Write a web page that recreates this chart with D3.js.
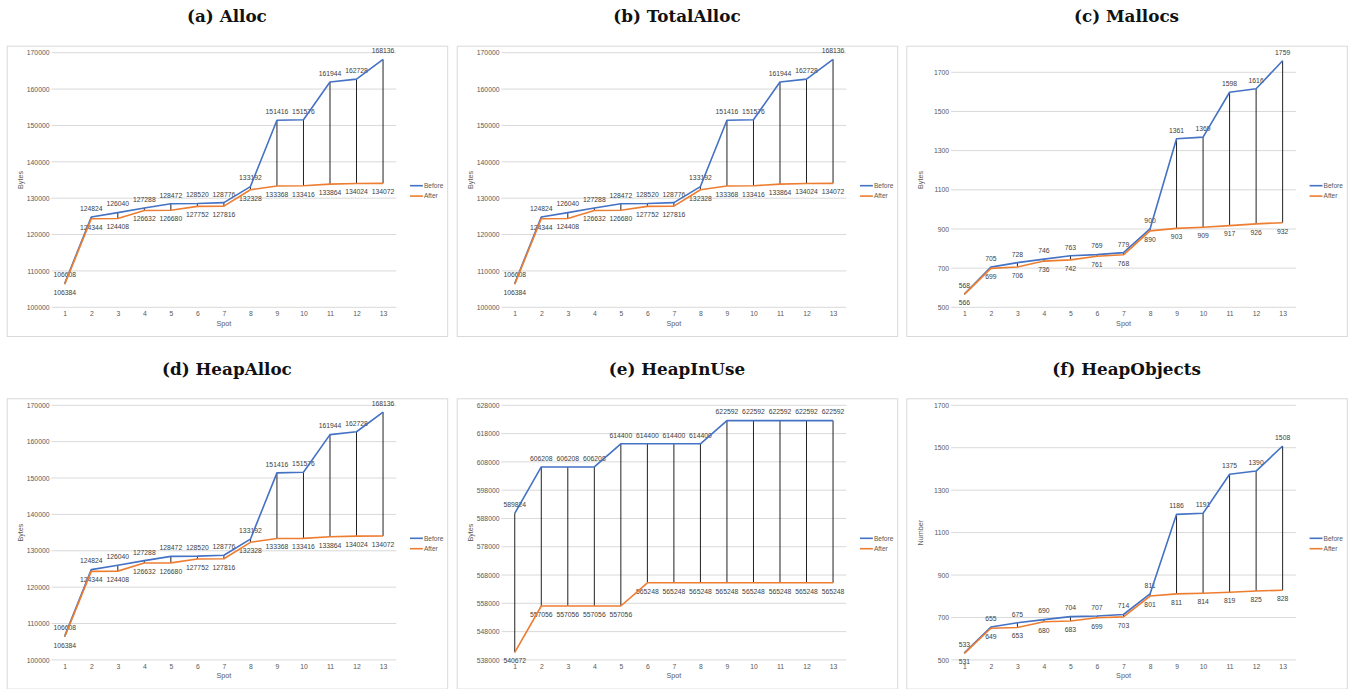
<!DOCTYPE html>
<html>
<head>
<meta charset="utf-8">
<script src="https://cdn.jsdelivr.net/npm/d3@7"></script>
<style>
  body { margin: 0; background: #fff; }
  text { font-family: "Liberation Sans", Arial, sans-serif; }
  .title { font-family: "DejaVu Serif", serif; font-weight: bold; }
</style>
</head>
<body>
<svg id="fig" width="1348" height="689"></svg>
<script>
// Measurement spots along the x axis
const spots = [1, 2, 3, 4, 5, 6, 7, 8, 9, 10, 11, 12, 13];
const seriesNames = ["Before", "After"];

// Alloc (bytes)
const allocBefore = [106608, 124824, 126040, 127288, 128472, 128520, 128776, 133192, 151416, 151576, 161944, 162728, 168136];
const allocAfter  = [106384, 124344, 124408, 126632, 126680, 127752, 127816, 132328, 133368, 133416, 133864, 134024, 134072];

// TotalAlloc (bytes)
const totalAllocBefore = [106608, 124824, 126040, 127288, 128472, 128520, 128776, 133192, 151416, 151576, 161944, 162728, 168136];
const totalAllocAfter  = [106384, 124344, 124408, 126632, 126680, 127752, 127816, 132328, 133368, 133416, 133864, 134024, 134072];

// Mallocs (count)
const mallocsBefore = [568, 705, 728, 746, 763, 769, 779, 900, 1361, 1369, 1598, 1616, 1759];
const mallocsAfter  = [566, 699, 706, 736, 742, 761, 768, 890, 903, 909, 917, 926, 932];

// HeapAlloc (bytes)
const heapAllocBefore = [106608, 124824, 126040, 127288, 128472, 128520, 128776, 133192, 151416, 151576, 161944, 162728, 168136];
const heapAllocAfter  = [106384, 124344, 124408, 126632, 126680, 127752, 127816, 132328, 133368, 133416, 133864, 134024, 134072];

// HeapInUse (bytes)
const heapInUseBefore = [589824, 606208, 606208, 606208, 614400, 614400, 614400, 614400, 622592, 622592, 622592, 622592, 622592];
const heapInUseAfter  = [540672, 557056, 557056, 557056, 557056, 565248, 565248, 565248, 565248, 565248, 565248, 565248, 565248];

// HeapObjects (count)
const heapObjectsBefore = [533, 655, 675, 690, 704, 707, 714, 811, 1186, 1191, 1375, 1390, 1508];
const heapObjectsAfter  = [531, 649, 653, 680, 683, 699, 703, 801, 811, 814, 819, 825, 828];

// Value-axis ticks and extents
const bytesTicks = [100000, 110000, 120000, 130000, 140000, 150000, 160000, 170000];
const bytesDomain = [100000, 170000];
const mallocsTicks = [500, 700, 900, 1100, 1300, 1500, 1700];
const mallocsDomain = [500, 1800];
const heapInUseTicks = [538000, 548000, 558000, 568000, 578000, 588000, 598000, 608000, 618000, 628000];
const heapInUseDomain = [538000, 628000];
const heapObjectsTicks = [500, 700, 900, 1100, 1300, 1500, 1700];
const heapObjectsDomain = [500, 1700];

const panels = [
  { title: "(a) Alloc",       yTitle: "Bytes",  before: allocBefore,       after: allocAfter,       ticks: bytesTicks,       domain: bytesDomain },
  { title: "(b) TotalAlloc",  yTitle: "Bytes",  before: totalAllocBefore,  after: totalAllocAfter,  ticks: bytesTicks,       domain: bytesDomain },
  { title: "(c) Mallocs",     yTitle: "Bytes",  before: mallocsBefore,     after: mallocsAfter,     ticks: mallocsTicks,     domain: mallocsDomain },
  { title: "(d) HeapAlloc",   yTitle: "Bytes",  before: heapAllocBefore,   after: heapAllocAfter,   ticks: bytesTicks,       domain: bytesDomain },
  { title: "(e) HeapInUse",   yTitle: "Bytes",  before: heapInUseBefore,   after: heapInUseAfter,   ticks: heapInUseTicks,   domain: heapInUseDomain },
  { title: "(f) HeapObjects", yTitle: "Number", before: heapObjectsBefore, after: heapObjectsAfter, ticks: heapObjectsTicks, domain: heapObjectsDomain }
];

const colors = { Before: "#4472C4", After: "#ED7D31" };

// Grid of chart frames
const colLeft = [6.7, 456.7, 906.3];
const rowTop = [45.7, 398.3];
const boxW = 440.5, boxH = 290.3;
const plot = { left: 44.8, right: 389.6, top: 7, bottom: 261.6 };

const svg = d3.select("#fig");

panels.forEach((p, i) => {
  const bx = colLeft[i % 3], by = rowTop[Math.floor(i / 3)];

  // Caption above the frame
  svg.append("text")
    .attr("class", "title")
    .attr("x", bx + boxW / 2)
    .attr("y", by - 23.3)
    .attr("text-anchor", "middle")
    .attr("font-size", 16.8)
    .attr("fill", "#111")
    .text(p.title);

  const g = svg.append("g").attr("transform", `translate(${bx},${by})`);

  g.append("rect")
    .attr("x", 0.5).attr("y", 0.5)
    .attr("width", boxW).attr("height", boxH)
    .attr("fill", "#fff")
    .attr("stroke", "#d9d9d9")
    .attr("stroke-width", 1);

  const x = d3.scalePoint().domain(spots).range([plot.left, plot.right]).padding(0.5);
  const y = d3.scaleLinear().domain(p.domain).range([plot.bottom, plot.top]);

  // Horizontal gridlines
  g.append("g").selectAll("line")
    .data(p.ticks).join("line")
    .attr("x1", plot.left).attr("x2", plot.right)
    .attr("y1", d => y(d)).attr("y2", d => y(d))
    .attr("stroke", "#d9d9d9").attr("stroke-width", 1);

  // Value axis labels
  const yAxis = d3.axisLeft(y).tickValues(p.ticks).tickSize(0).tickPadding(2).tickFormat(d3.format("d"));
  const ya = g.append("g").attr("transform", `translate(${plot.left},0)`).call(yAxis);
  ya.select(".domain").remove();
  ya.selectAll("text").attr("font-size", 6.8).attr("fill", "#595959").attr("font-family", "Liberation Sans, Arial, sans-serif");

  // Category axis labels
  const xAxis = d3.axisBottom(x).tickSize(0).tickPadding(4);
  const xa = g.append("g").attr("transform", `translate(0,${plot.bottom})`).call(xAxis);
  xa.select(".domain").remove();
  xa.selectAll("text").attr("font-size", 6.8).attr("fill", "#595959").attr("font-family", "Liberation Sans, Arial, sans-serif");

  // Axis titles
  g.append("text")
    .attr("x", (plot.left + plot.right) / 2)
    .attr("y", 280)
    .attr("text-anchor", "middle")
    .attr("font-size", 7.2)
    .attr("fill", "#595959")
    .text("Spot");
  g.append("text")
    .attr("transform", `translate(16.5,${(plot.top + plot.bottom) / 2}) rotate(-90)`)
    .attr("text-anchor", "middle")
    .attr("font-size", 7.2)
    .attr("fill", "#595959")
    .text(p.yTitle);

  const rows = spots.map((s, k) => ({ s, before: p.before[k], after: p.after[k] }));

  // High-low drop lines between the two series
  g.append("g").selectAll("line")
    .data(rows).join("line")
    .attr("x1", d => x(d.s)).attr("x2", d => x(d.s))
    .attr("y1", d => y(d.before)).attr("y2", d => y(d.after))
    .attr("stroke", "#222").attr("stroke-width", 1);

  // Data labels: Before above its point, After below
  g.append("g").selectAll("text")
    .data(rows).join("text")
    .attr("x", d => x(d.s))
    .attr("y", d => y(d.before) - 8.5)
    .attr("dy", "0.35em")
    .attr("text-anchor", "middle")
    .attr("font-size", 6.8)
    .attr("fill", "#404040")
    .text(d => d.before);
  g.append("g").selectAll("text")
    .data(rows).join("text")
    .attr("x", d => x(d.s))
    .attr("y", d => y(d.after) + 8.5)
    .attr("dy", "0.35em")
    .attr("text-anchor", "middle")
    .attr("font-size", 6.8)
    .attr("fill", "#404040")
    .text(d => d.after);

  // Series lines
  seriesNames.forEach(name => {
    const key = name === "Before" ? "before" : "after";
    const line = d3.line().x(d => x(d.s)).y(d => y(d[key]));
    g.append("path")
      .datum(rows)
      .attr("d", line)
      .attr("fill", "none")
      .attr("stroke", colors[name])
      .attr("stroke-width", 1.6)
      .attr("stroke-linejoin", "round");
  });

  // Legend
  const lg = g.append("g");
  seriesNames.forEach((name, k) => {
    const ly = 140 + k * 10.4;
    lg.append("line")
      .attr("x1", 403.3).attr("x2", 416.2)
      .attr("y1", ly).attr("y2", ly)
      .attr("stroke", colors[name]).attr("stroke-width", 1.6);
    lg.append("text")
      .attr("x", 417.2).attr("y", ly)
      .attr("dy", "0.35em")
      .attr("font-size", 6.6)
      .attr("fill", "#595959")
      .text(name);
  });
});
</script>
</body>
</html>
